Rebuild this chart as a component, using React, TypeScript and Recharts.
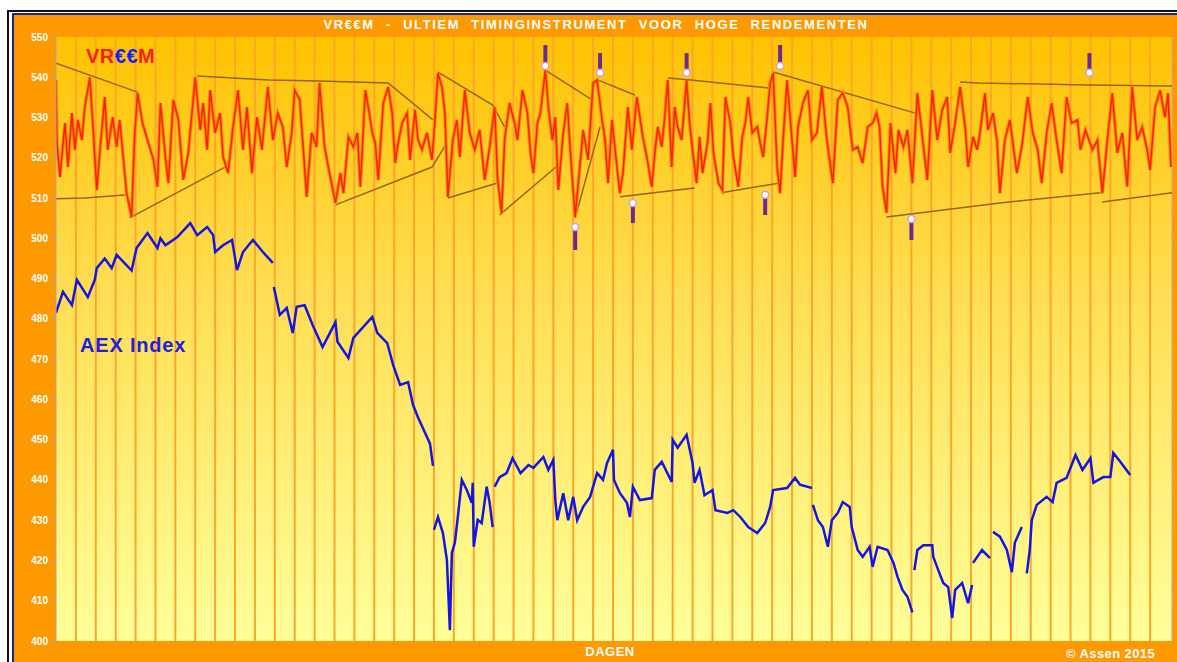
import { ComposedChart, Line, XAxis, YAxis, CartesianGrid, ReferenceLine, ReferenceDot } from "recharts";

type Pt = [number, number | null];

// VR€€M oscillator, [dag, waarde]
const VREEM: Pt[] = [
  [0, 539.3], [1, 523.7], [4, 515.2], [9, 528.6], [12, 517.7], [16, 531.1], [19, 522], [22, 529.4],
  [26, 524.4], [29, 532.6], [34, 540], [37, 528.6], [41, 512], [44, 521.2], [49, 535.1], [52, 522],
  [57, 530.1], [61, 522.7], [64, 529.4], [71, 511.2], [76, 505.3], [79, 525.2], [82, 536.1], [87, 528.6],
  [92, 524.4], [98, 519.5], [102, 512.8], [105, 533.6], [110, 520.2], [113, 513.7], [118, 534.4], [123, 529.4],
  [128, 514.5], [133, 521.2], [140, 540], [145, 526.9], [148, 533.6], [152, 522], [155, 536.8], [160, 526.2],
  [165, 531.1], [168, 520.2], [173, 516.2], [178, 527.7], [183, 536.8], [188, 522], [192, 532.6], [197, 516.2],
  [202, 530.1], [207, 522], [213, 537.6], [218, 524.4], [223, 531.1], [228, 527.7], [232, 517.7], [237, 526.2],
  [240, 536.8], [245, 534.4], [248, 524.4], [252, 510.3], [257, 526.2], [262, 522.7], [265, 538.6], [270, 522.7],
  [275, 516.2], [281, 508.8], [286, 516.2], [289, 511.2], [294, 525.2], [299, 522.7], [303, 526.2], [306, 512.8],
  [311, 536.8], [314, 532.6], [318, 526.2], [321, 523.7], [324, 514.5], [329, 533.6], [334, 537.6], [338, 531.1],
  [341, 518.7], [344, 523.7], [348, 528.6], [353, 531.1], [356, 519.5], [361, 531.9], [364, 524.4], [368, 522],
  [373, 526.2], [378, 519.5], [381, 529.4], [384, 541], [388, 537.6], [391, 531.1], [394, 510.3], [399, 524.4],
  [403, 529.4], [406, 520.2], [411, 536.8], [416, 526.2], [421, 522], [426, 526.9], [431, 514.5], [436, 522.7],
  [441, 532.6], [444, 514.5], [448, 506.3], [451, 524.4], [456, 533.6], [461, 528.6], [464, 524.4], [469, 536.8],
  [474, 531.1], [477, 521.2], [480, 516.2], [484, 528.6], [487, 531.1], [492, 541.8], [495, 532.6], [499, 524.4],
  [502, 530.1], [505, 512], [510, 526.2], [514, 533.6], [517, 522], [522, 505.3], [527, 518.7], [530, 526.9],
  [535, 519.5], [540, 538.6], [544, 539.3], [549, 529.4], [552, 524.4], [555, 513.7], [559, 529.4], [564, 517.7],
  [567, 511.2], [570, 516.2], [575, 532.6], [579, 522], [584, 535.1], [587, 530.1], [590, 525.2], [594, 520.2],
  [599, 512.8], [602, 521.2], [605, 527.7], [609, 522.7], [612, 530.1], [615, 539.3], [619, 517.7], [622, 532.6],
  [625, 527.7], [629, 524.4], [634, 539.3], [637, 528.6], [640, 522], [644, 513.7], [647, 525.2], [650, 516.2],
  [655, 523.7], [658, 533.6], [661, 521.2], [666, 513.7], [670, 512], [673, 535.1], [678, 528.6], [681, 520.2],
  [686, 512.8], [690, 525.2], [693, 528.6], [696, 535.1], [700, 526.2], [705, 527.7], [708, 523.7], [711, 520.2],
  [715, 530.1], [718, 538.6], [721, 541], [725, 517.7], [728, 511.2], [731, 524.4], [735, 539.3], [740, 524.4],
  [743, 515.2], [746, 527.7], [751, 533.6], [756, 536.8], [760, 524.4], [765, 526.2], [770, 537.6], [775, 524.4],
  [781, 513.7], [786, 534.4], [791, 536.1], [796, 532.6], [801, 522], [806, 522.7], [811, 518.7], [816, 527.7],
  [821, 528.6], [825, 531.1], [828, 527.7], [831, 512.8], [835, 506.3], [839, 528.6], [844, 516.2], [847, 526.9],
  [852, 522.7], [856, 526.9], [861, 513.7], [866, 536.1], [871, 525.2], [876, 514.5], [881, 536.8], [886, 524.4],
  [891, 531.9], [896, 535.1], [899, 521.2], [904, 528.6], [909, 537.6], [914, 527.7], [917, 517.7], [922, 525.2],
  [926, 522], [929, 526.2], [934, 536.1], [937, 526.9], [942, 531.1], [946, 524.4], [949, 511.2], [954, 524.4],
  [959, 529.4], [966, 516.2], [971, 522.7], [977, 535.1], [982, 526.2], [987, 522], [991, 513.7], [996, 526.2],
  [1001, 533.6], [1006, 524.4], [1011, 516.2], [1016, 535.1], [1021, 528.6], [1027, 529.4], [1030, 522], [1035, 526.9],
  [1042, 522], [1047, 524.4], [1052, 511.2], [1057, 524.4], [1062, 536.1], [1067, 521.2], [1072, 526.2], [1077, 512.8],
  [1082, 537.6], [1087, 524.4], [1092, 527.7], [1097, 522], [1100, 517], [1105, 532.6], [1110, 536.8], [1115, 530.1],
  [1118, 536.1], [1121, 517.7],
];

// AEX index, null = onderbreking in de lijn
const AEX: Pt[] = [
  [0, 481.5], [7, 486.7], [16, 483.4], [21, 489.7], [32, 485.4], [39, 489.7], [41, 492.6], [49, 495],
  [56, 492.6], [61, 495.9], [76, 492], [81, 497.6], [92, 501.3], [102, 497.6], [105, 500], [110, 498.3],
  [122, 500.3], [135, 503.8], [142, 500.8], [152, 502.8], [158, 500.8], [160, 496.6], [168, 498.3], [177, 499.6],
  [182, 492.1], [188, 496.6], [198, 499.6], [208, 496.6], [218, 493.9], [218.5, null], [219, 487.9], [225, 481],
  [232, 482.7], [238, 476.5], [242, 483], [250, 483.4], [258, 478.5], [268, 473], [281, 479.2], [283, 474.3],
  [294, 470.3], [299, 475.3], [318, 480.5], [323, 476.5], [333, 474], [339, 468.5], [346, 463.6], [354, 464.3],
  [359, 458.6], [364, 455.5], [371, 451.7], [376, 449], [379, 443.5], [379.5, null], [380, 427.6], [384, 430.8],
  [389, 426.8], [393, 420.1], [396, 402.7], [398, 421.9], [401, 424.4], [404, 430.8], [408, 440], [413, 437.5],
  [418, 434.3], [419, 439.3], [420, 423.4], [424, 430.1], [428, 429.3], [433, 438.3], [436, 434.3], [439, 428.3],
  [440, null], [441, 438.3], [446, 440.7], [453, 441.7], [459, 445.4], [467, 441.7], [475, 443.7], [480, 443],
  [490, 445.7], [495, 442.5], [500, 445], [502, 435], [504, 430], [510, 436.7], [515, 430], [520, 435.8],
  [524, 430], [530, 433.3], [537, 435.8], [544, 441.7], [550, 440], [554, 444.2], [560, 447.5], [561, 440],
  [567, 436.7], [574, 434.3], [577, 430.8], [580, 438.3], [587, 435], [599, 435.5], [602, 442.5], [609, 444.5],
  [619, 439.5], [620, 450], [625, 448], [634, 451.2], [640, 444.2], [642, 439.3], [647, 442.5], [652, 436.2],
  [660, 437.5], [663, 432.5], [675, 431.8], [681, 432.5], [688, 430.8], [696, 428.3], [705, 426.8], [713, 429.3],
  [718, 433.3], [721, 437.5], [735, 438], [743, 440.5], [748, 438.8], [760, 438], [760.5, null], [761, 433.8],
  [766, 430], [771, 428.3], [776, 423.4], [780, 430], [786, 431.8], [791, 434.5], [798, 433.3], [800, 428.3],
  [806, 422.6], [811, 420.9], [818, 423.4], [821, 418.4], [826, 423.4], [836, 422.6], [842, 419.4], [846, 416],
  [851, 412.7], [856, 411], [861, 407.1], [862, null], [863, 417.6], [866, 422.6], [872, 423.8], [881, 423.8],
  [882, 420.9], [887, 417.6], [892, 414.4], [897, 413.4], [901, 405.7], [904, 412.7], [911, 414.4], [917, 409.4],
  [921, 413.9], [921.5, null], [922, 419.4], [931, 422.6], [939, 420.6], [940, null], [942, 427.1], [949, 425.9],
  [956, 422.6], [961, 417.1], [964, 424.4], [971, 428.3], [972, null], [976, 416.8], [979, 422.6], [981, 430],
  [986, 433.8], [996, 435.8], [1002, 434.5], [1006, 439.3], [1016, 440.5], [1025, 446.2], [1032, 442.5], [1040, 445.4],
  [1043, 439.3], [1053, 440.7], [1060, 440.7], [1063, 446.7], [1070, 444.5], [1080, 441.2],
];

// trendkanalen (bruine lijnen)
const CHANNELS: Pt[][] = [
  [[0, 543.5], [82, 536.3]],
  [[0, 509.8], [29, 510], [72, 510.8]],
  [[74, 505.1], [170, 517.7]],
  [[142, 540.3], [215, 539.3], [265, 539.1], [334, 538.6], [379, 529.4]],
  [[281, 508.3], [378, 517.7], [393, 523.7]],
  [[384, 541.3], [439, 533.1], [451, 527.7]],
  [[394, 510], [443, 513.7]],
  [[446, 505.8], [505, 518.2]],
  [[492, 541.8], [539, 534.4]],
  [[522, 505.1], [547, 527.7]],
  [[545, 539.3], [582, 535.6]],
  [[567, 510.3], [642, 512.5]],
  [[615, 539.8], [638, 539.3], [718, 537.3]],
  [[669, 511.3], [726, 513.7]],
  [[721, 541.3], [864, 531.1]],
  [[835, 505.3], [949, 508.8], [1050, 511.3]],
  [[1052, 509], [1122, 511.3]],
  [[909, 538.8], [927, 538.6], [1038, 538.1], [1122, 537.8]],
];

// signalen: [dag, punt, staart]
const TOP_SIGNALS: [number, number, number][] = [
  [492, 542.8, 548], [547, 541.1, 546], [634, 541.1, 546], [728, 542.8, 548], [1039, 541.1, 546],
];
const BOTTOM_SIGNALS: [number, number, number][] = [
  [522, 502.8, 497.1], [580, 508.8, 503.8], [713, 510.8, 505.8], [860, 504.8, 499.6],
];

const X_MAX = 1122;
const Y_TICKS = [400, 410, 420, 430, 440, 450, 460, 470, 480, 490, 500, 510, 520, 530, 540, 550];
const GRID_DAYS = Array.from({ length: 55 }, (_, i) => (i + 1) * 20);

const toRows = (pts: Pt[]) => pts.map(([x, y]) => ({ x, y }));

const gridX = (args: any) => {
  const scale = args?.xAxis?.scale;
  if (typeof scale === "function") return GRID_DAYS.map((d) => scale(d));
  const o = args.offset;
  return GRID_DAYS.map((d) => o.left + (d / X_MAX) * o.width);
};

const Marker = (props: any) => (
  <circle cx={props.cx} cy={props.cy} r={3.5} fill="#ffffff" stroke="#c9a3e6" strokeWidth={1.5} />
);

export default function App() {
  const signals = [...TOP_SIGNALS, ...BOTTOM_SIGNALS];
  return (
    <div style={{ position: "fixed", left: 0, top: 0, width: 1177, height: 662, overflow: "hidden", background: "#fff", fontFamily: "Arial, 'Liberation Sans', sans-serif" }}>
      <div style={{ position: "absolute", left: 7, top: 10, width: 1200, height: 700, border: "2px solid #111", boxSizing: "border-box" }} />
      <div style={{ position: "absolute", left: 12, top: 13, width: 1200, height: 700, border: "2px solid #22228a", background: "#ff9900", boxSizing: "border-box" }} />
      <div style={{ position: "absolute", left: 15, top: 17, width: 1162, textAlign: "center", color: "#fff", fontWeight: "bold", fontSize: 13, letterSpacing: 1.6, wordSpacing: 6, lineHeight: "16px" }}>
        VR€€M - ULTIEM TIMINGINSTRUMENT VOOR HOGE RENDEMENTEN
      </div>
      <div style={{ position: "absolute", left: 15, top: 15 }}>
        <ComposedChart width={1162} height={647} margin={{ top: 22, right: 5, bottom: 21, left: 0 }}>
          <defs>
            <linearGradient id="bg" x1="0" y1="0" x2="0" y2="1">
              <stop offset="0%" stopColor="#ffc200" />
              <stop offset="40%" stopColor="#ffdc50" />
              <stop offset="100%" stopColor="#ffff99" />
            </linearGradient>
          </defs>
          <CartesianGrid horizontal={false} vertical={true} fill="url(#bg)" fillOpacity={1} stroke="#ffa628" strokeWidth={2} verticalCoordinatesGenerator={gridX} />
          <XAxis type="number" dataKey="x" domain={[0, X_MAX]} ticks={GRID_DAYS} allowDataOverflow tick={false} tickLine={false} height={0} axisLine={{ stroke: "#a8a8a8" }} />
          <YAxis type="number" domain={[400, 550]} ticks={Y_TICKS} allowDataOverflow width={41} tickSize={5} tickMargin={3} interval={0}
            axisLine={{ stroke: "#a8a8a8" }} tickLine={{ stroke: "#a8a8a8" }}
            tick={{ fill: "#ffffff", fontSize: 10, fontWeight: "bold" }} />
          <ReferenceLine x={X_MAX} stroke="#b0b0b0" />
          {CHANNELS.map((seg, i) => (
            <Line key={`ch-${i}`} data={toRows(seg)} dataKey="y" type="linear" stroke="#96641e" strokeWidth={1.5} dot={false} isAnimationActive={false} />
          ))}
          <Line data={toRows(VREEM)} dataKey="y" type="linear" stroke="#ff8c00" strokeWidth={3.5} dot={false} isAnimationActive={false} />
          <Line data={toRows(VREEM)} dataKey="y" type="linear" stroke="#ff1e00" strokeWidth={1.5} dot={false} isAnimationActive={false} />
          <Line data={toRows(AEX)} dataKey="y" type="linear" stroke="#1414e6" strokeWidth={2.5} dot={false} isAnimationActive={false} />
          {signals.map(([d, tip, tail], i) => (
            <ReferenceLine key={`sg-${i}`} segment={[{ x: d, y: tail }, { x: d, y: tip }]} stroke="#6a2a90" strokeWidth={4} />
          ))}
          {signals.map(([d, tip], i) => (
            <ReferenceDot key={`mk-${i}`} x={d} y={tip} shape={Marker} />
          ))}
        </ComposedChart>
      </div>
      <div style={{ position: "absolute", left: 86, top: 46, fontSize: 20, fontWeight: "bold", lineHeight: "20px", letterSpacing: 0.5 }}>
        <span style={{ color: "#ff1e00" }}>VR</span><span style={{ color: "#1a1aff" }}>€€</span><span style={{ color: "#ff1e00" }}>M</span>
      </div>
      <div style={{ position: "absolute", left: 80, top: 334, fontSize: 20, fontWeight: "bold", color: "#2020dd", lineHeight: "22px", letterSpacing: 0.8 }}>AEX Index</div>
      <div style={{ position: "absolute", left: 15, top: 644, width: 1190, textAlign: "center", color: "#fff", fontWeight: "bold", fontSize: 13, lineHeight: "15px", letterSpacing: 0.5 }}>DAGEN</div>
      <div style={{ position: "absolute", left: 1066, top: 646, color: "#fff", fontWeight: "bold", fontSize: 13, lineHeight: "15px", letterSpacing: 0.4 }}>© Assen 2015</div>
    </div>
  );
}
